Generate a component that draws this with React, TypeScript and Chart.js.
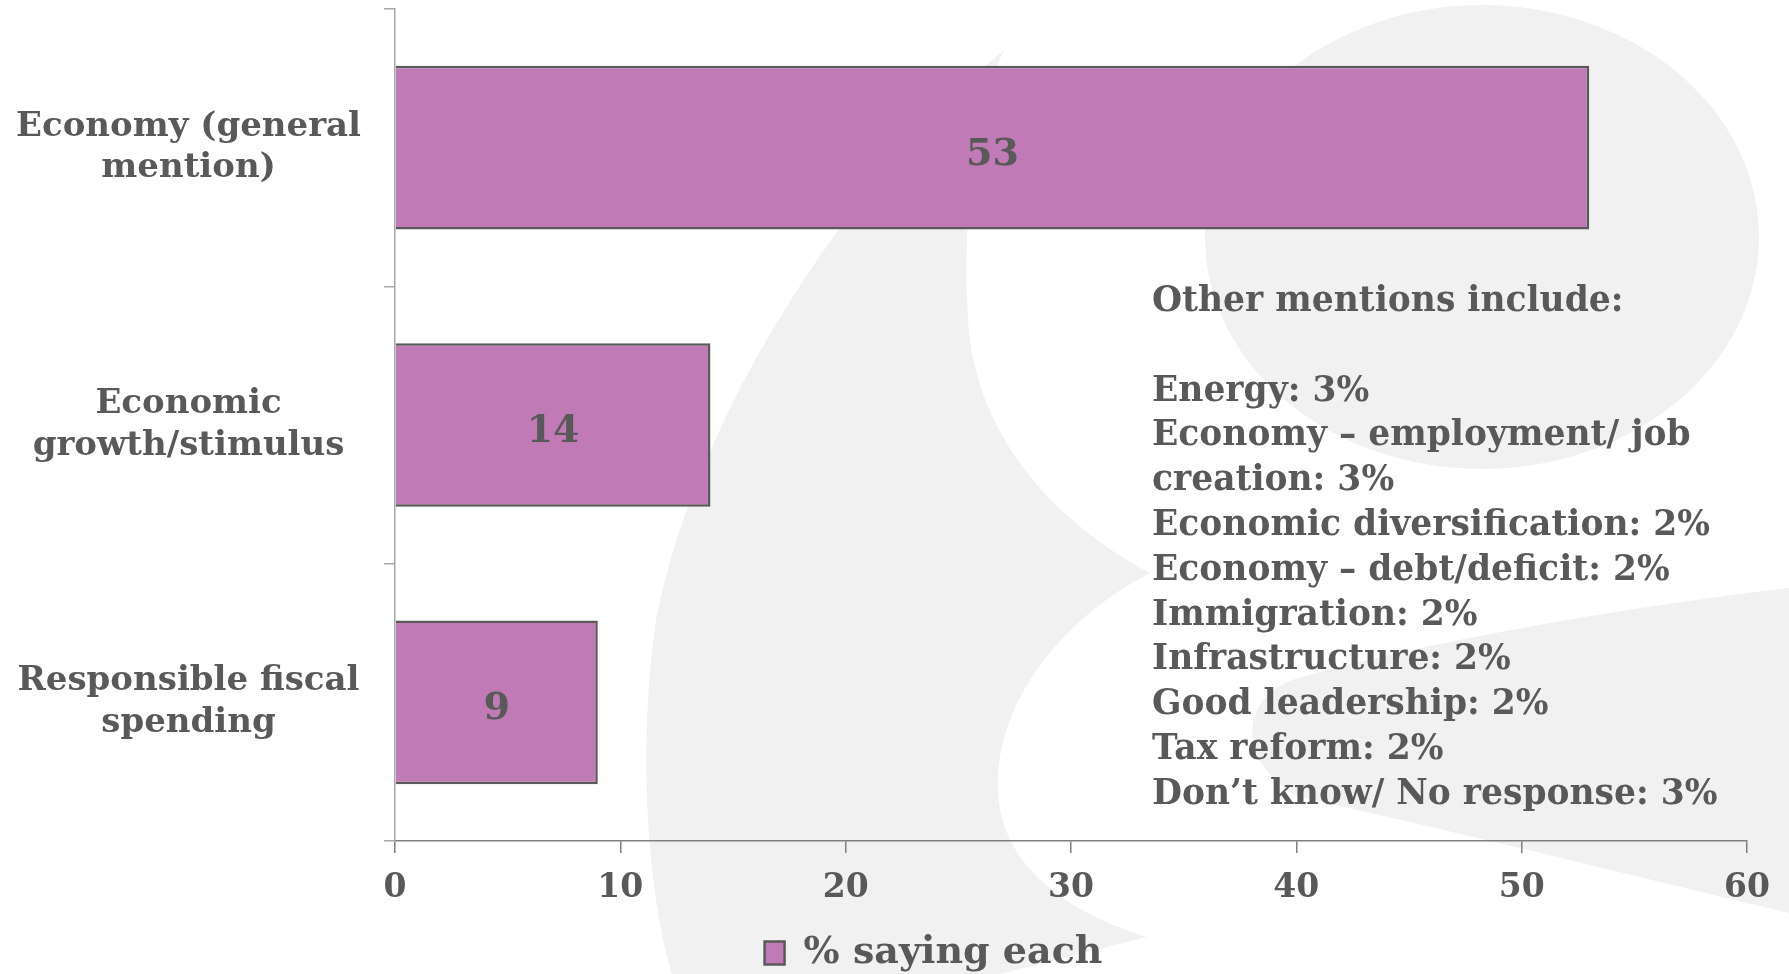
import React, { useEffect, useRef } from "react";
import { Chart, registerables } from "chart.js";

Chart.register(...registerables);

// ---------- data ----------
const categories: string[][] = [
  ["Economy (general", "mention)"],
  ["Economic", "growth/stimulus"],
  ["Responsible fiscal", "spending"],
];
const values: number[] = [53, 14, 9];
const seriesLabel = "% saying each";
const xMin = 0;
const xMax = 60;
const xStep = 10;
const otherMentionsTitle = "Other mentions include:";
const otherMentions: string[] = [
  "Energy: 3%",
  "Economy \u2013 employment/ job",
  "creation: 3%",
  "Economic diversification: 2%",
  "Economy \u2013 debt/deficit: 2%",
  "Immigration: 2%",
  "Infrastructure: 2%",
  "Good leadership: 2%",
  "Tax reform: 2%",
  "Don\u2019t know/ No response: 3%",
];

// ---------- styles ----------
const FONT = "'DejaVu Serif', Georgia, serif";
const TEXT = "#595959";
const BAR_FILL = "#C07AB5";
const BAR_BORDER = "#595959";
const WATERMARK = "#f1f1f1";

const watermarkPlugin = {
  id: "watermark",
  beforeDraw(chart: any) {
    const ctx = chart.ctx as CanvasRenderingContext2D;
    ctx.save();
    ctx.fillStyle = WATERMARK;
    // upper right round shape
    ctx.beginPath();
    ctx.ellipse(1482, 237, 277, 232, 0, 0, Math.PI * 2);
    ctx.fill();
    // left crescent stroke
    ctx.beginPath();
    ctx.moveTo(1004, 50);
    ctx.bezierCurveTo(860, 170, 700, 400, 656, 620);
    ctx.bezierCurveTo(636, 760, 650, 900, 672, 974);
    ctx.lineTo(1000, 974);
    ctx.lineTo(1147, 937);
    ctx.bezierCurveTo(1060, 910, 995, 860, 998, 780);
    ctx.bezierCurveTo(1000, 700, 1060, 620, 1150, 573);
    ctx.bezierCurveTo(1060, 525, 975, 440, 968, 320);
    ctx.bezierCurveTo(962, 210, 975, 110, 1004, 50);
    ctx.closePath();
    ctx.fill();
    // lower right tail
    ctx.beginPath();
    ctx.moveTo(1789, 588);
    ctx.bezierCurveTo(1600, 610, 1400, 648, 1292, 680);
    ctx.bezierCurveTo(1238, 700, 1238, 765, 1300, 797);
    ctx.bezierCurveTo(1450, 830, 1650, 880, 1789, 913);
    ctx.closePath();
    ctx.fill();
    ctx.restore();
  },
};

const legendShiftPlugin = {
  id: "legendShift",
  afterLayout(chart: any) {
    const lg = chart.legend;
    if (lg) {
      lg.left += 60;
      lg.right += 60;
    }
  },
};

const valueLabelPlugin = {
  id: "valueLabels",
  afterDatasetsDraw(chart: any) {
    const ctx = chart.ctx as CanvasRenderingContext2D;
    const meta = chart.getDatasetMeta(0);
    ctx.save();
    ctx.font = `bold 38px ${FONT}`;
    ctx.fillStyle = TEXT;
    ctx.textAlign = "center";
    ctx.textBaseline = "middle";
    meta.data.forEach((bar: any, i: number) => {
      const p = bar.getProps(["x", "y", "base"], true);
      ctx.fillText(String(values[i]), (p.x + p.base) / 2, p.y + 7);
    });
    ctx.restore();
  },
};

const notesPlugin = {
  id: "notes",
  afterDraw(chart: any) {
    const ctx = chart.ctx as CanvasRenderingContext2D;
    ctx.save();
    ctx.font = `bold 34.5px ${FONT}`;
    ctx.fillStyle = TEXT;
    ctx.textAlign = "left";
    ctx.textBaseline = "middle";
    const x0 = 1152;
    const y0 = 302;
    const step = 44.8;
    ctx.fillText(otherMentionsTitle, x0, y0);
    otherMentions.forEach((line, i) => {
      ctx.fillText(line, x0, y0 + step * (i + 2));
    });
    ctx.restore();
  },
};

export default function App() {
  const ref = useRef<HTMLCanvasElement | null>(null);

  useEffect(() => {
    document.documentElement.style.overflow = "hidden";
    document.body.style.margin = "0";
    document.body.style.overflow = "hidden";
    document.body.style.background = "#ffffff";
    const canvas = ref.current;
    if (!canvas) return;

    const chart = new Chart(canvas, {
      type: "bar",
      data: {
        labels: categories,
        datasets: [
          {
            label: seriesLabel,
            data: values,
            backgroundColor: BAR_FILL,
            borderColor: BAR_BORDER,
            borderWidth: 2.5,
            barPercentage: 0.59,
            categoryPercentage: 1,
          },
        ],
      },
      options: {
        indexAxis: "y",
        responsive: false,
        animation: false,
        layout: { padding: { top: 9, right: 42, left: 0, bottom: 0 } },
        plugins: {
          legend: {
            position: "bottom",
            labels: {
              boxWidth: 20,
              boxHeight: 23,
              padding: 10,
              color: TEXT,
              font: { family: FONT, size: 38, weight: "bold" },
            },
          },
          tooltip: { enabled: false },
        },
        scales: {
          x: {
            type: "linear",
            min: xMin,
            max: xMax,
            ticks: {
              stepSize: xStep,
              color: TEXT,
              padding: 16,
              font: { family: FONT, size: 33, weight: "bold" },
            },
            grid: { drawOnChartArea: false, tickLength: 12, color: "#7f7f7f", lineWidth: 1.5 },
            border: { color: "#7f7f7f", width: 1.5 },
            afterFit: (scale: any) => {
              scale.height = 83;
              scale.paddingLeft = 0;
              scale.paddingRight = 0;
            },
          },
          y: {
            ticks: {
              color: TEXT,
              crossAlign: "center",
              padding: 23,
              font: { family: FONT, size: 34, weight: "bold", lineHeight: 1.22 },
            },
            grid: { drawOnChartArea: false, offset: true, tickLength: 11, color: "#a6a6a6", lineWidth: 1.5 },
            border: { color: "#a6a6a6", width: 1.5 },
            afterFit: (scale: any) => {
              scale.width = 395;
              scale.paddingTop = 0;
              scale.paddingBottom = 0;
            },
          },
        },
      },
      plugins: [watermarkPlugin, legendShiftPlugin, valueLabelPlugin, notesPlugin],
    });

    return () => {
      chart.destroy();
    };
  }, []);

  return (
    <canvas
      ref={ref}
      width={1789}
      height={982}
      style={{ display: "block", width: 1789, height: 982 }}
    />
  );
}
